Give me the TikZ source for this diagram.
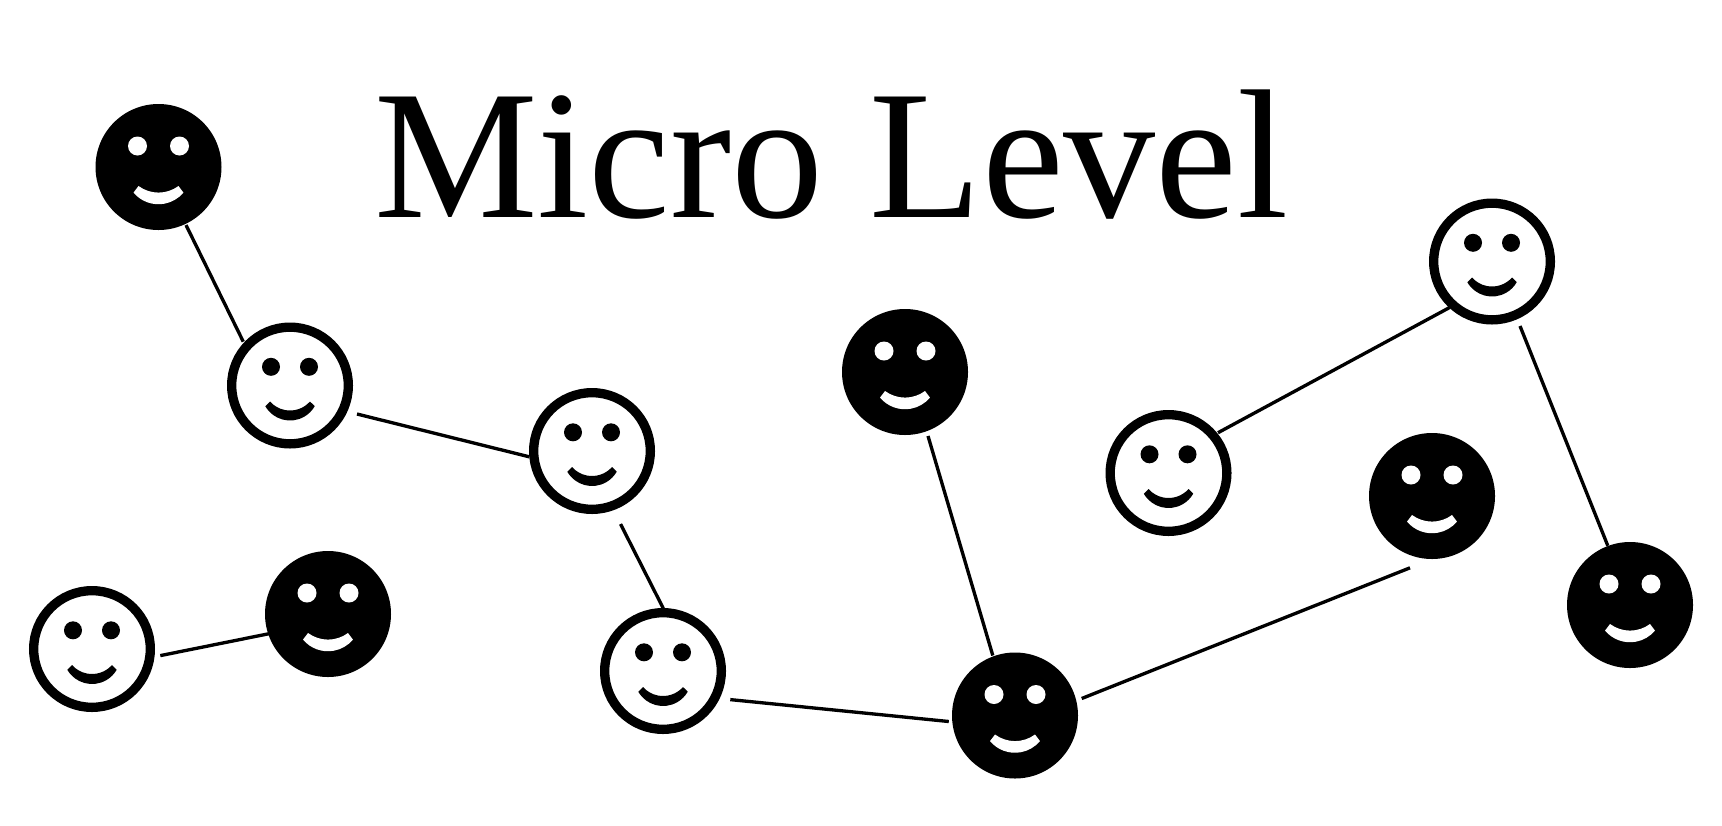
\documentclass[tikz,border=0pt]{standalone}
\usepackage{fontspec}
\setmainfont{Liberation Serif}
\tikzset{every picture/.style={line width=0.75pt}}
\tikzset{
darkhead/.style={circle, fill=black, draw=none, inner sep=0pt, outer sep=0pt, minimum size=94.5pt},
lighthead/.style={circle, fill=white, draw=black, line width=7pt, inner sep=0pt, minimum size=87.5pt},
link/.style={line width=2.5pt, line cap=butt},
darkface/.pic={
\fill [white] (-21,21) circle [radius=9.5] ;
\fill [white] (21,21) circle [radius=9.5] ;
\fill [white] (-25,-25.6) arc [start angle=220, end angle=320, radius=32.6] -- (20,-19) arc [start angle=306.5, end angle=233.5, radius=33.6] -- cycle ;
},
lightface/.pic={
\fill [black] (-19,18.7) circle [radius=9] ;
\fill [black] (19,18.7) circle [radius=9] ;
\fill [black] (-24.7,-20.7) arc [start angle=209.9, end angle=330.1, radius=28.5] -- (20,-16) arc [start angle=318.5, end angle=221.5, radius=26.7] -- cycle ;
}
}

\begin{document}
\begin{tikzpicture}[x=0.75pt,y=0.75pt,yscale=-1,xscale=1]
\useasboundingbox (0,0) rectangle (1722,825);

% Text Node
\node (title) [anchor=base west, inner sep=0pt, font=\fontsize{138pt}{138pt}\selectfont] at (373.5,217) {Micro Level};

%Shape: Dark heads
\node [darkhead] (dark1) at (158.5,167) {};
\node [darkhead] (dark2) at (905,372) {};
\node [darkhead] (dark3) at (1432,496) {};
\node [darkhead] (dark4) at (1630,605) {};
\node [darkhead] (dark5) at (1015,715.5) {};
\node [darkhead] (dark6) at (328,614) {};
%Shape: Light heads
\node [lighthead] (light1) at (290,385.5) {};
\node [lighthead] (light2) at (592,451) {};
\node [lighthead] (light3) at (663,671) {};
\node [lighthead] (light4) at (92,649) {};
\node [lighthead] (light5) at (1168.5,473) {};
\node [lighthead] (light6) at (1492,261.5) {};

%Faces
\pic at (dark1) {darkface};
\pic at (dark2) {darkface};
\pic at (dark3) {darkface};
\pic at (dark4) {darkface};
\pic at (dark5) {darkface};
\pic at (dark6) {darkface};
\pic at (light1) {lightface};
\pic at (light2) {lightface};
\pic at (light3) {lightface};
\pic at (light4) {lightface};
\pic at (light5) {lightface};
\pic at (light6) {lightface};

%Straight Lines
\draw [link] ([shift={(27.5,58)}]dark1.center) -- ([shift={(-46.7,-43.8)}]light1.center) ;
\draw [link] ([shift={(67,28.5)}]light1.center) -- ([shift={(-62.7,5.8)}]light2.center) ;
\draw [link] ([shift={(28.5,73)}]light2.center) -- ([shift={(0.3,-62.6)}]light3.center) ;
\draw [link] ([shift={(67.3,28.6)}]light3.center) -- ([shift={(-66.2,6)}]dark5.center) ;
\draw [link] ([shift={(23,64)}]dark2.center) -- ([shift={(-22.2,-60)}]dark5.center) ;
\draw [link] ([shift={(66.7,-17)}]dark5.center) -- ([shift={(-22,71.8)}]dark3.center) ;
\draw [link] ([shift={(49.5,-40.3)}]light5.center) -- ([shift={(-42.4,46)}]light6.center) ;
\draw [link] ([shift={(28,64.5)}]light6.center) -- ([shift={(-22.2,-59.2)}]dark4.center) ;
\draw [link] ([shift={(68.3,6.6)}]light4.center) -- ([shift={(-59,19.7)}]dark6.center) ;

\end{tikzpicture}
\end{document}
